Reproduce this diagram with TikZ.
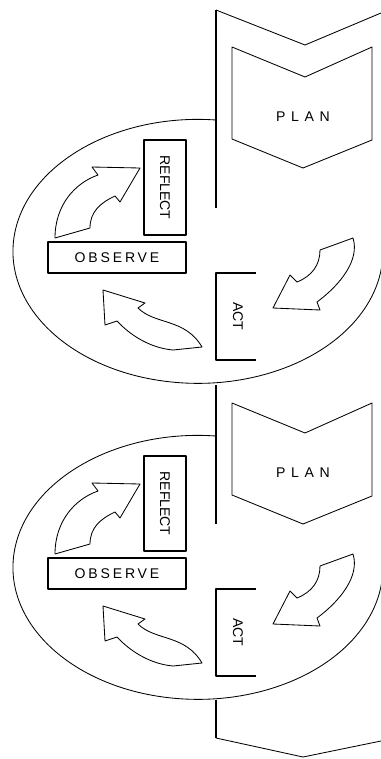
\documentclass[tikz,border=0pt]{standalone}
\usepackage{fontspec}
\newfontfamily\labelfont{Liberation Sans}
\usetikzlibrary{positioning}

\begin{document}
\begin{tikzpicture}[
    x=0.025cm, y=-0.025cm,
    line join=round,
    frame/.style={draw, line width=0.8pt},
    curve/.style={draw, line width=0.6pt},
    blockarrow/.style={draw, line width=0.6pt, fill=white},
    boxed/.style={rectangle, draw, line width=0.8pt, inner sep=0pt, font=\labelfont},
    word/.style={font=\labelfont, inner sep=0pt},
    wide/.style={font=\labelfont\addfontfeature{LetterSpace=40}},
    spaced/.style={font=\labelfont\addfontfeature{LetterSpace=20}}
  ]
  \useasboundingbox (0,0) rectangle (381,759);

  % ----- main column -----
  \draw[curve] (381,13) -- (305,45) -- (216,10);
  \draw[frame] (216,10) -- (216,208);
  \draw[frame] (216,385) -- (216,524);
  \draw[frame] (216,700) -- (216,738);
  \draw[curve] (216,738) -- (303,757) -- (381,741);

  % ----- PLAN blocks -----
  \foreach \dy/\n in {0/1, 356/2} {
    \begin{scope}[shift={(0,\dy)}]
      \draw[curve] (232,47) -- (305,77) -- (372,47) -- (372,140)
                   -- (303,168) -- (232,139) -- cycle;
      \node[word, wide] (plan\n) at (303,117) {PLAN};
    \end{scope}
  }

  % ----- one cycle per loop: reflect, observe, act -----
  \foreach \dy/\n in {0/1, 316/2} {
    \begin{scope}[shift={(0,\dy)}]
      \draw[curve] (216,120) arc[start angle=-84.4, end angle=-360,
                                 x radius=185, y radius=132];
      \node[boxed, rotate=-90, minimum width=2.375cm, minimum height=1.05cm]
           (reflect\n) at (165,187.5) {REFLECT};
      \node[boxed, spaced, minimum width=3.45cm, minimum height=0.775cm]
           (observe\n) at (117,257.5) {OBSERVE};
      \draw[frame] (256,273) -- (216,273) -- (216,360) -- (256,360);
      \node[word, rotate=-90] (act\n) at (238,316.5) {ACT};
      % observe -> reflect
      \path[blockarrow] (55,238) .. controls (55,205) and (75,183) .. (98,175)
            -- (92,167) -- (140,168) -- (120,202) -- (115,196)
            .. controls (100,203) and (90,212) .. (90,228) -- cycle;
      % plan -> act
      \path[blockarrow] (320,250) -- (353,238)
            .. controls (360,260) and (340,285) .. (317,302)
            -- (320,310) -- (273,308) -- (290,275) -- (297,282)
            .. controls (312,276) and (320,265) .. cycle;
      % act -> observe
      \path[blockarrow] (103,290) -- (145,303) -- (138,308)
            .. controls (155,325) and (185,318) .. (202,347)
            -- (173,350) .. controls (150,348) and (130,335) .. (117,321)
            -- (105,325) -- cycle;
    \end{scope}
  }
\end{tikzpicture}
\end{document}
